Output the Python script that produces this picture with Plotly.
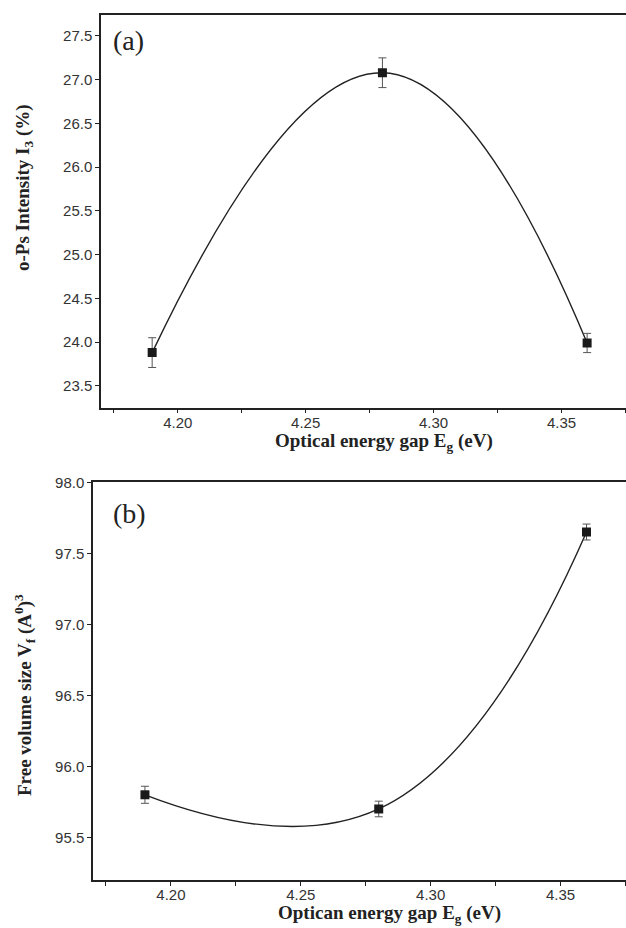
import plotly.graph_objects as go

# ---- data ----
eg = [4.19, 4.28, 4.36]
i3 = [23.88, 27.08, 23.99]
i3_err = [0.17, 0.17, 0.11]
vf = [95.80, 95.70, 97.65]
vf_err = [0.06, 0.055, 0.056]

x_ticks = [4.20, 4.25, 4.30, 4.35]

W, H = 626, 928

def fx(px):
    return px / W

def fy(py):
    return 1 - py / H

fig = go.Figure()

line_col = "#222222"

# panel (a)
fig.add_trace(go.Scatter(x=eg, y=i3, mode="lines", line=dict(shape="spline", smoothing=1.3, color=line_col, width=1.4),
                         xaxis="x", yaxis="y", hoverinfo="skip"))
fig.add_trace(go.Scatter(x=eg, y=i3, mode="markers",
                         marker=dict(symbol="square", size=9, color="#1a1a1a"),
                         error_y=dict(type="data", array=i3_err, color="#555555", thickness=1, width=4),
                         xaxis="x", yaxis="y"))
# panel (b)
fig.add_trace(go.Scatter(x=eg, y=vf, mode="lines", line=dict(shape="spline", smoothing=1.3, color=line_col, width=1.4),
                         xaxis="x2", yaxis="y2", hoverinfo="skip"))
fig.add_trace(go.Scatter(x=eg, y=vf, mode="markers",
                         marker=dict(symbol="square", size=9, color="#1a1a1a"),
                         error_y=dict(type="data", array=vf_err, color="#555555", thickness=1, width=4),
                         xaxis="x2", yaxis="y2"))

tickfont = dict(family="Liberation Sans, Arial", size=15, color="#333333")
axcommon = dict(showline=True, linecolor=line_col, linewidth=1.5, ticks="outside", ticklen=4,
                tickwidth=1.2, tickcolor=line_col, showgrid=False, zeroline=False,
                tickfont=tickfont, automargin=False)

xcommon = dict(axcommon, range=[4.17, 4.3752], tickvals=x_ticks, tickformat=".2f",
               minor=dict(dtick=0.025, tick0=4.2, ticks="outside", ticklen=4, tickwidth=1.2, tickcolor=line_col),
               mirror=True, ticklabelstandoff=-3)

fig.update_layout(
    width=W, height=H, margin=dict(l=0, r=0, t=0, b=0),
    paper_bgcolor="white", plot_bgcolor="white", showlegend=False,
    xaxis=dict(xcommon, domain=[fx(101), 1.0], anchor="y"),
    yaxis=dict(axcommon, domain=[fy(407.7), fy(15)], range=[23.25, 27.74], dtick=0.5, tick0=23.5,
               tickformat=".1f", anchor="x"),
    xaxis2=dict(xcommon, domain=[fx(93), 1.0], anchor="y2", ticklabelstandoff=-4),
    yaxis2=dict(axcommon, domain=[fy(880), fy(482.3)], range=[95.2, 98.0], dtick=0.5, tick0=95.5,
                tickformat=".1f", anchor="x2"),
)

titlefont = dict(family="Liberation Serif, Times New Roman", size=19, color="#222222")
labelfont = dict(family="Liberation Serif, Times New Roman", size=28, color="#222222")

ann = [
    dict(text="<b>Optical energy gap E<sub>g</sub> (eV)</b>", x=fx(384), y=fy(442)),
    dict(text="<b>Optican energy gap E<sub>g</sub> (eV)</b>", x=fx(389), y=fy(914)),
    dict(text="<b>o-Ps Intensity I<sub>3</sub> (%)</b>", x=fx(24), y=fy(188), textangle=-90),
    dict(text="<b>Free volume size V<sub>f</sub> (A<sup>0</sup>)<sup>3</sup></b>", x=fx(24), y=fy(695), textangle=-90),
]
for a in ann:
    fig.add_annotation(xref="paper", yref="paper", showarrow=False, font=titlefont,
                       xanchor="center", yanchor="middle", **a)

fig.add_annotation(text="(a)", xref="paper", yref="paper", x=fx(111), y=fy(40), xanchor="left", yanchor="middle",
                   showarrow=False, font=labelfont)
fig.add_annotation(text="(b)", xref="paper", yref="paper", x=fx(111), y=fy(513), xanchor="left", yanchor="middle",
                   showarrow=False, font=labelfont)

fig.write_html("out.html")
